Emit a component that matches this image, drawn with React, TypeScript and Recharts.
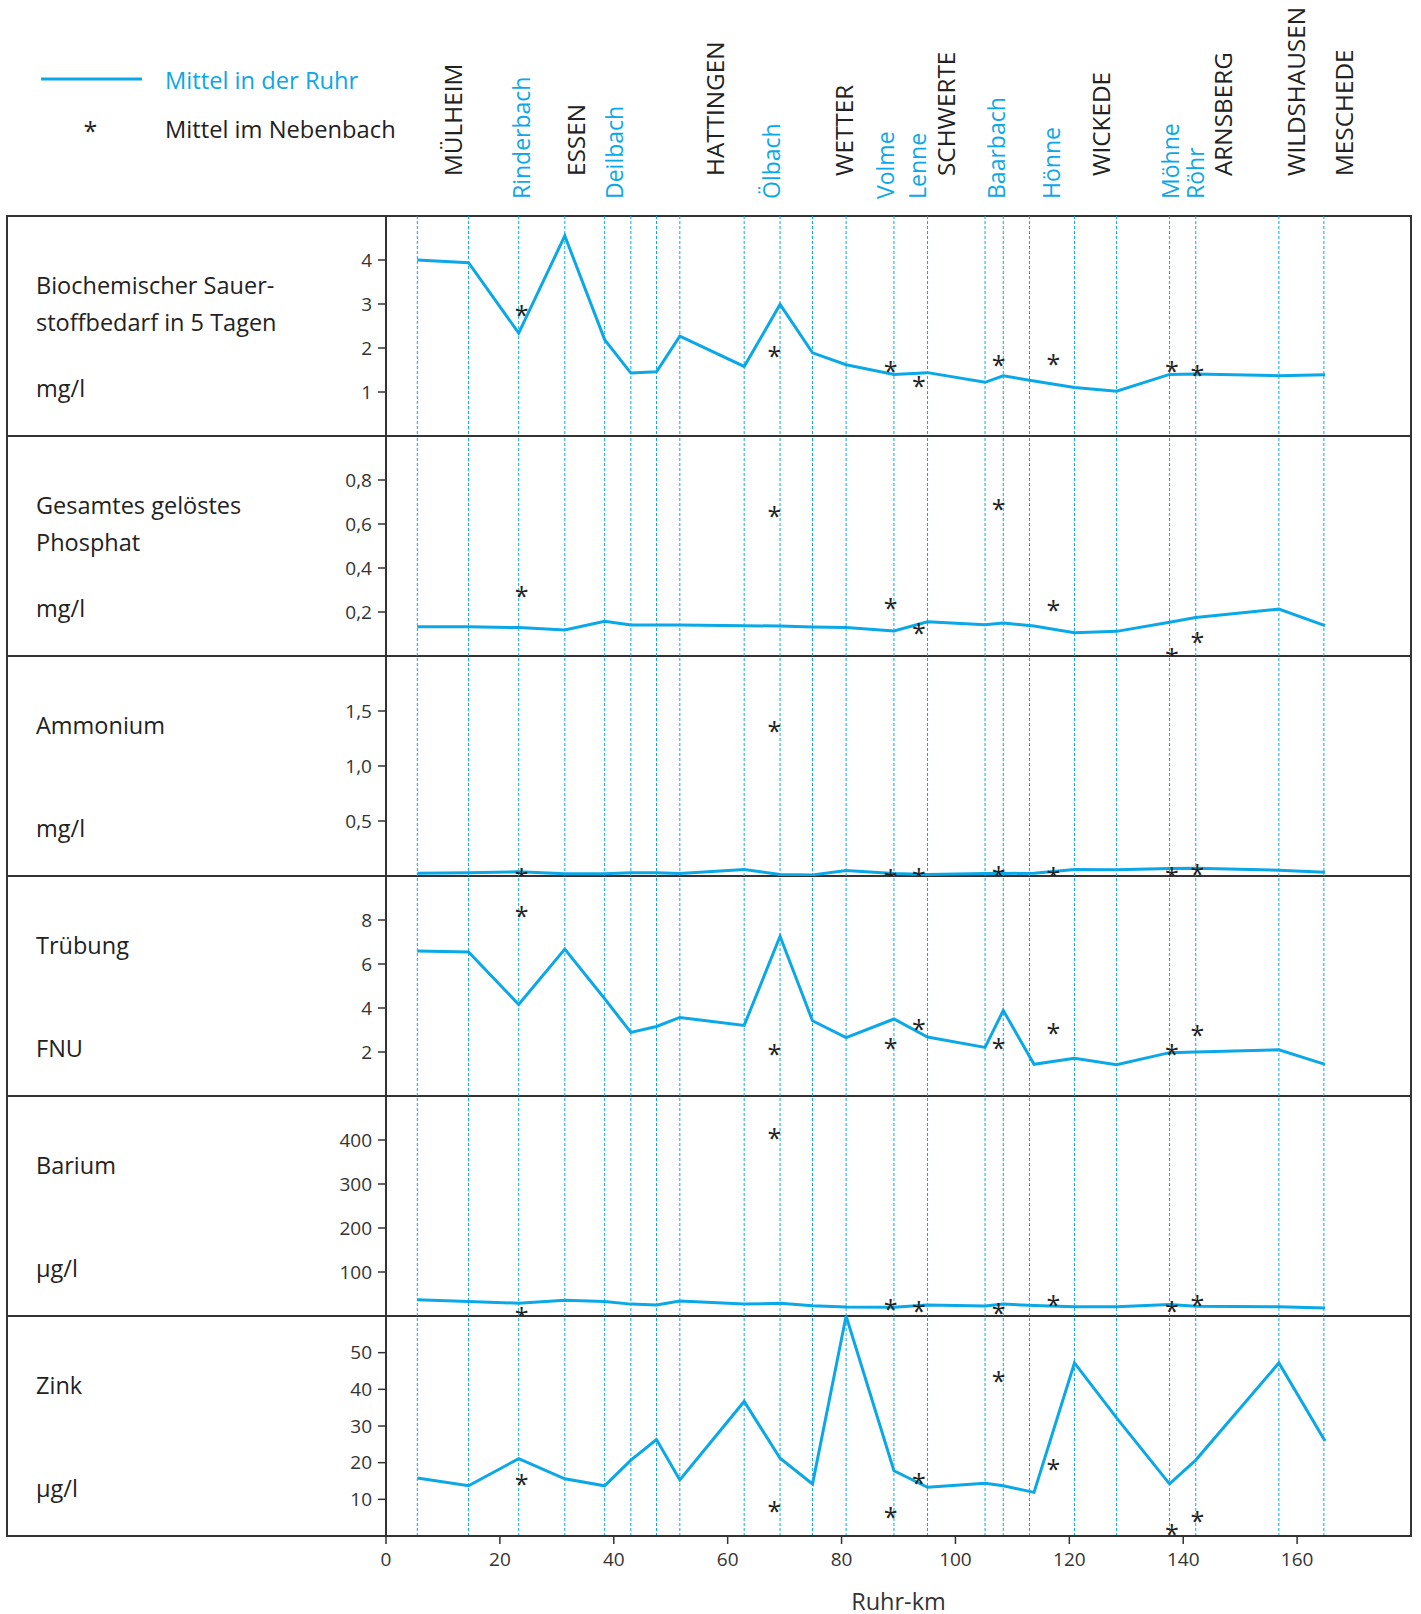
import React from 'react';
import { ComposedChart, XAxis, YAxis, Line, Scatter, ReferenceLine } from 'recharts';

const BLUE = '#0aa8e6';
const INK = '#222222';
const FONT = '"Open Sans", "Noto Sans", sans-serif';

// Ruhr-km of the dotted station lines
const gridKm = [5.5, 14.5, 23.3, 31.4, 38.4, 43.0, 47.5, 51.6, 62.9, 69.2, 74.9, 80.8, 89.2, 95.1, 105.2, 108.4, 113.0, 120.9, 128.3, 137.6, 142.2, 156.8, 164.7];

// Ruhr-km of the measuring points on the Ruhr (line vertices)
const ruhrKm = [5.5, 14.5, 23.3, 31.4, 38.4, 43.0, 47.5, 51.6, 62.9, 69.2, 74.9, 80.8, 89.2, 95.1, 105.2, 108.4, 113.8, 120.9, 128.3, 137.6, 142.2, 156.8, 164.9];

// Ruhr-km of the tributary mouths (asterisks)
const tribKm = [23.8, 68.2, 88.6, 93.6, 107.6, 117.2, 138.0, 142.5];

// labels along the top
const stationNames = ['MÜLHEIM', 'Rinderbach', 'ESSEN', 'Deilbach', 'HATTINGEN', 'Ölbach', 'WETTER', 'Volme', 'Lenne', 'SCHWERTE', 'Baarbach', 'Hönne', 'WICKEDE', 'Möhne', 'Röhr', 'ARNSBERG', 'WILDSHAUSEN', 'MESCHEDE'];
const stationLabelKm = [11.7, 23.7, 33.2, 40.1, 57.6, 67.6, 80.4, 87.6, 93.2, 98.3, 107.1, 116.7, 125.4, 137.7, 142.0, 146.9, 159.7, 168.2];
const stationIsTributary = [false, true, false, true, false, true, false, true, true, false, true, true, false, true, true, false, false, false];

// Biochemischer Sauerstoffbedarf (mg/l)
const bsbRuhr = [4.0, 3.94, 2.34, 4.55, 2.19, 1.43, 1.46, 2.27, 1.58, 2.99, 1.89, 1.62, 1.40, 1.44, 1.22, 1.37, 1.25, 1.10, 1.02, 1.40, 1.41, 1.37, 1.39];
const bsbTrib = [2.87, 1.94, 1.59, 1.26, 1.73, 1.75, 1.60, 1.50];

// Gesamtes gelöstes Phosphat (mg/l)
const phosRuhr = [0.133, 0.133, 0.129, 0.118, 0.158, 0.141, 0.141, 0.141, 0.138, 0.136, 0.132, 0.130, 0.114, 0.156, 0.142, 0.150, 0.136, 0.106, 0.112, 0.153, 0.175, 0.213, 0.138];
const phosTrib = [0.297, 0.659, 0.241, 0.129, 0.693, 0.233, 0.014, 0.088];

// Ammonium (mg/l)
const ammRuhr = [0.026, 0.03, 0.038, 0.02, 0.02, 0.03, 0.03, 0.023, 0.06, 0.014, 0.01, 0.05, 0.023, 0.014, 0.023, 0.023, 0.025, 0.06, 0.056, 0.068, 0.07, 0.053, 0.035];
const ammTrib = [0.026, 1.366, 0.02, 0.026, 0.044, 0.035, 0.035, 0.06];

// Trübung (FNU)
const turbRuhr = [6.59, 6.55, 4.16, 6.68, 4.42, 2.89, 3.16, 3.57, 3.21, 7.26, 3.42, 2.65, 3.50, 2.68, 2.21, 3.89, 1.44, 1.71, 1.42, 1.97, 2.0, 2.10, 1.44];
const turbTrib = [8.42, 2.12, 2.41, 3.28, 2.42, 3.09, 2.12, 2.98];

// Barium (µg/l)
const baRuhr = [37, 33, 29, 36, 33, 27, 25, 34, 27, 29, 23.5, 20.5, 19.7, 25, 23, 27, 24, 21, 21, 26, 22, 21, 18];
const baTrib = [10, 417, 26.5, 22, 19, 37, 23.5, 36];

// Zink (µg/l)
const zinkRuhr = [15.8, 13.7, 21.1, 15.6, 13.7, 20.7, 26.3, 15.3, 36.7, 21.2, 14.2, 60, 17.8, 13.3, 14.4, 13.7, 11.9, 47.2, 32.2, 14.2, 20.7, 47.2, 25.9];
const zinkTrib = [15.6, 8.3, 6.6, 15.8, 43.7, 19.6, 2.0, 5.4];

const xTicks = [0, 20, 40, 60, 80, 100, 120, 140, 160];

const comma1 = (v: number) => v.toFixed(1).replace('.', ',');
const plain = (v: number) => String(v);

const panels = [
    { lines: ['Biochemischer Sauer-', 'stoffbedarf in 5 Tagen'], unit: 'mg/l', ruhr: bsbRuhr, trib: bsbTrib, domain: [0, 5], ticks: [1, 2, 3, 4], fmt: plain },
    { lines: ['Gesamtes gelöstes', 'Phosphat'], unit: 'mg/l', ruhr: phosRuhr, trib: phosTrib, domain: [0, 1], ticks: [0.2, 0.4, 0.6, 0.8], fmt: comma1 },
    { lines: ['Ammonium'], unit: 'mg/l', ruhr: ammRuhr, trib: ammTrib, domain: [0, 2], ticks: [0.5, 1.0, 1.5], fmt: comma1 },
    { lines: ['Trübung'], unit: 'FNU', ruhr: turbRuhr, trib: turbTrib, domain: [0, 10], ticks: [2, 4, 6, 8], fmt: plain },
    { lines: ['Barium'], unit: 'µg/l', ruhr: baRuhr, trib: baTrib, domain: [0, 500], ticks: [100, 200, 300, 400], fmt: plain },
    { lines: ['Zink'], unit: 'µg/l', ruhr: zinkRuhr, trib: zinkTrib, domain: [0, 60], ticks: [10, 20, 30, 40, 50], fmt: plain },
];

const TOP = 216;
const PANEL_H = 220;
const PLOT_LEFT = 386;
const PLOT_RIGHT = 1411;
const W = 1421;

const pairs = (xs: number[], ys: number[]) => xs.map((km, i) => ({ km, v: ys[i] }));

const Star = (props: any) => {
    const { cx, cy } = props;
    if (cx == null || cy == null) return null;
    return (
        <text x={cx} y={cy + 14} textAnchor="middle" fontSize={25} fill={INK}>*</text>
    );
};

const StationTick = (props: any) => {
    const { x, payload } = props;
    const i = stationLabelKm.indexOf(payload.value);
    if (i < 0) return null;
    const trib = stationIsTributary[i];
    const bottom = trib ? 199 : 176;
    return (
        <text
            transform={`translate(${x},${bottom}) rotate(-90)`}
            textAnchor="start"
            dominantBaseline="central"
            fontSize={trib ? 23 : 24.3}
            fill={trib ? BLUE : INK}
        >
            {stationNames[i]}
        </text>
    );
};

const Panel = ({ p, idx }: { p: any; idx: number }) => {
    const first = idx === 0;
    const last = idx === panels.length - 1;
    const top = first ? 0 : TOP + idx * PANEL_H;
    const height = first ? TOP + PANEL_H : last ? PANEL_H + 78 : PANEL_H;
    return (
        <div style={{ position: 'absolute', left: 0, top }}>
            <ComposedChart
                width={W}
                height={height}
                margin={{ top: 0, right: W - PLOT_RIGHT, bottom: 0, left: PLOT_LEFT - 60 }}
            >
                {first ? (
                    <XAxis
                        dataKey="km"
                        type="number"
                        domain={[0, 180]}
                        orientation="top"
                        height={TOP}
                        ticks={stationLabelKm}
                        interval={0}
                        axisLine={false}
                        tickLine={false}
                        tick={<StationTick />}
                        allowDataOverflow
                    />
                ) : last ? (
                    <XAxis
                        dataKey="km"
                        type="number"
                        domain={[0, 180]}
                        height={78}
                        ticks={xTicks}
                        interval={0}
                        axisLine={{ stroke: '#333', strokeWidth: 2 }}
                        tickLine={{ stroke: '#333', strokeWidth: 1.5 }}
                        tickSize={8}
                        tickMargin={9}
                        tick={{ fontSize: 19, fill: '#333' }}
                        label={{ value: 'Ruhr-km', position: 'insideBottom', offset: 4, fontSize: 23.5, fill: '#333' }}
                        allowDataOverflow
                    />
                ) : (
                    <XAxis dataKey="km" type="number" domain={[0, 180]} hide allowDataOverflow />
                )}
                <YAxis
                    type="number"
                    domain={p.domain}
                    ticks={p.ticks}
                    interval={0}
                    width={60}
                    allowDataOverflow
                    tickFormatter={p.fmt}
                    axisLine={{ stroke: '#333', strokeWidth: 2 }}
                    tickLine={{ stroke: '#333', strokeWidth: 1.5 }}
                    tickSize={8}
                    tickMargin={6}
                    tick={{ fontSize: 19, fill: '#333' }}
                />
                {gridKm.map((k) => (
                    <ReferenceLine key={k} x={k} stroke={BLUE} strokeWidth={1} strokeDasharray="3 2" />
                ))}
                <Line
                    data={pairs(ruhrKm, p.ruhr)}
                    dataKey="v"
                    type="linear"
                    stroke={BLUE}
                    strokeWidth={3}
                    dot={false}
                    activeDot={false}
                    isAnimationActive={false}
                />
                <Scatter
                    data={pairs(tribKm, p.trib)}
                    dataKey="v"
                    shape={<Star />}
                    isAnimationActive={false}
                />
            </ComposedChart>
        </div>
    );
};

export default function App() {
    return (
        <div style={{ position: 'absolute', left: 0, top: 0, width: W, height: 1614, background: '#fff', fontFamily: FONT }}>
            <svg width={W} height={1614} style={{ position: 'absolute', left: 0, top: 0 }} fontFamily={FONT}>
                {/* legend */}
                <line x1={41} y1={79} x2={142} y2={79} stroke={BLUE} strokeWidth={3} />
                <text x={165} y={80} dominantBaseline="central" fontSize={23.7} fill={BLUE}>Mittel in der Ruhr</text>
                <text x={90.5} y={126 + 14} textAnchor="middle" fontSize={25} fill={INK}>*</text>
                <text x={165} y={129} dominantBaseline="central" fontSize={23.7} fill={INK}>Mittel im Nebenbach</text>
                {/* frame */}
                <rect x={7} y={TOP} width={PLOT_RIGHT - 7} height={PANEL_H * 6} fill="none" stroke="#333" strokeWidth={2} />
                <line x1={PLOT_LEFT} y1={TOP} x2={PLOT_LEFT} y2={TOP + PANEL_H * 6} stroke="#333" strokeWidth={2} />
                {panels.slice(1).map((_, i) => (
                    <line key={i} x1={7} x2={PLOT_RIGHT} y1={TOP + (i + 1) * PANEL_H} y2={TOP + (i + 1) * PANEL_H} stroke="#333" strokeWidth={2} />
                ))}
                {/* panel labels */}
                {panels.map((p, i) => {
                    const y0 = TOP + i * PANEL_H;
                    return (
                        <g key={i} fontSize={23.5} fill={INK}>
                            {p.lines.map((t: string, j: number) => (
                                <text key={j} x={36} y={y0 + 69 + j * 37} dominantBaseline="central">{t}</text>
                            ))}
                            <text x={36} y={y0 + 172} dominantBaseline="central">{p.unit}</text>
                        </g>
                    );
                })}
            </svg>
            {panels.map((p, i) => (
                <Panel key={i} p={p} idx={i} />
            ))}
        </div>
    );
}
